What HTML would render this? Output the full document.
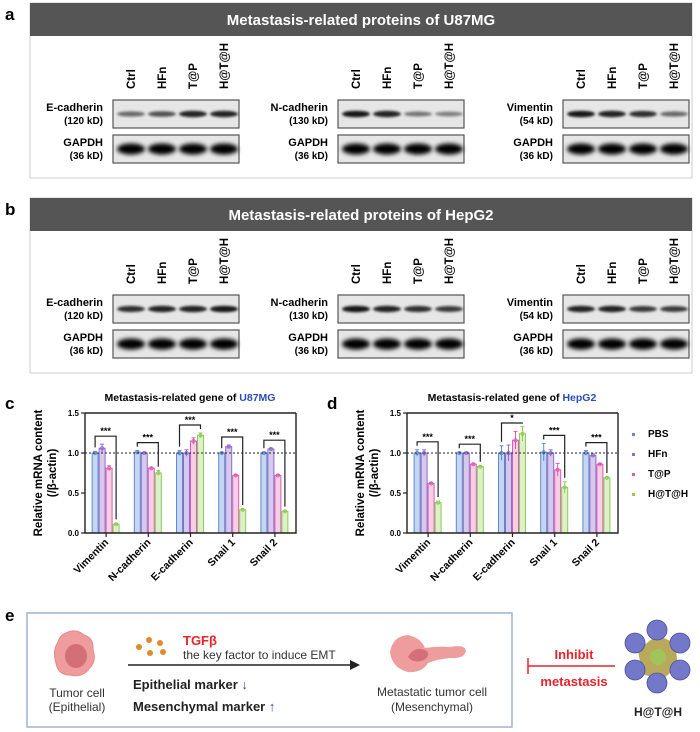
<!DOCTYPE html>
<html><head><meta charset="utf-8">
<style>
html,body{margin:0;padding:0;background:#fff;}
svg{display:block;font-family:"Liberation Sans",Arial,sans-serif;}
</style></head>
<body>
<svg id="fig" width="700" height="732" viewBox="0 0 700 732" xmlns="http://www.w3.org/2000/svg">
<defs>
<filter id="blur1" x="-20%" y="-50%" width="140%" height="200%"><feGaussianBlur stdDeviation="1.3"/></filter>
<filter id="blur2" x="-20%" y="-50%" width="140%" height="200%"><feGaussianBlur stdDeviation="2"/></filter>
</defs>
<g id="blots"></g>
<g id="charts"></g>
<g id="panel-e">
  <text x="5" y="621" font-size="17" font-weight="bold">e</text>
  <rect x="27" y="613" width="485" height="114" fill="none" stroke="#9db3d9" stroke-width="1.5"/>
  <g>
    <path d="M66,633 Q76,628 84,635 Q94,638 93,650 Q97,661 89,669 Q82,678 70,675 Q58,675 56,663 Q52,651 58,642 Q60,635 66,633Z" fill="#ef9c9c" stroke="#e58a8a"/>
    <ellipse cx="76" cy="656" rx="11" ry="12" fill="#d36f78"/>
  </g>
  <text x="77" y="697" font-size="12" text-anchor="middle" fill="#333">Tumor cell</text>
  <text x="77" y="711" font-size="12" text-anchor="middle" fill="#333">(Epithelial)</text>
  <g fill="#e08a2a">
    <circle cx="139" cy="647" r="3"/><circle cx="149" cy="640" r="3"/><circle cx="160" cy="643" r="3"/><circle cx="150" cy="653" r="3"/><circle cx="163" cy="652" r="3"/>
  </g>
  <text x="183" y="645" font-size="13" font-weight="bold" fill="#e8232a">TGFβ</text>
  <text x="183" y="659" font-size="12" fill="#333">the key factor to induce EMT</text>
  <line x1="128" y1="665" x2="352" y2="665" stroke="#222" stroke-width="1.5"/>
  <polygon points="360,665 350,660 350,670" fill="#222"/>
  <text x="133" y="689" font-size="13" font-weight="bold" fill="#222">Epithelial marker <tspan fill="#2a4da8">↓</tspan></text>
  <text x="133" y="711" font-size="13" font-weight="bold" fill="#222">Mesenchymal marker <tspan fill="#2a4da8">↑</tspan></text>
  <g>
    <path d="M390,652 Q393,636 408,635 Q421,638 425,648 Q438,646 450,647 Q465,644 466,651 Q464,659 450,658 Q438,659 428,663 Q422,673 408,672 Q392,668 390,652Z" fill="#ef9c9c"/>
    <path d="M408,657 Q414,646 425,650 Q432,654 424,660 Q414,664 408,657Z" fill="#d36f78"/>
  </g>
  <text x="432" y="696" font-size="12" text-anchor="middle" fill="#333">Metastatic tumor cell</text>
  <text x="432" y="711" font-size="12" text-anchor="middle" fill="#333">(Mesenchymal)</text>
  <text x="574" y="659" font-size="13" font-weight="bold" fill="#e8232a" text-anchor="middle">Inhibit</text>
  <line x1="528" y1="666" x2="615" y2="666" stroke="#e8232a" stroke-width="1.5"/>
  <line x1="528" y1="658" x2="528" y2="674" stroke="#e8232a" stroke-width="1.5"/>
  <text x="574" y="686" font-size="13" font-weight="bold" fill="#e8232a" text-anchor="middle">metastasis</text>
  <g>
    <polygon points="657,635 675,643 678,666 662,680 642,674 638,650" fill="#b9a95a"/>
    <circle cx="658" cy="657" r="8" fill="#9fc55a"/>
    <g fill="#7478c8" stroke="#4a4fa0" stroke-width="0.8">
      <circle cx="657" cy="630" r="10"/><circle cx="680" cy="643" r="10"/><circle cx="680" cy="670" r="10"/>
      <circle cx="657" cy="683" r="10"/><circle cx="635" cy="670" r="10"/><circle cx="635" cy="643" r="10"/>
    </g>
  </g>
  <text x="658" y="716" font-size="12" font-weight="bold" text-anchor="middle" fill="#222">H@T@H</text>
</g>
</svg>
<script>
const NS='http://www.w3.org/2000/svg';
function mk(parent,tag,attrs,text){const e=document.createElementNS(NS,tag);for(const k in attrs)e.setAttribute(k,attrs[k]);if(text!==undefined)e.textContent=text;parent.appendChild(e);return e;}

// ---------- Western blots ----------
const lanes=['Ctrl','HFn','T@P','H@T@H'];
const blotPanels=['a','b'];
const blotCells=['U87MG','HepG2'];
const proteins=['E-cadherin','N-cadherin','Vimentin'];
const proteinKd=['(120 kD)','(130 kD)','(54 kD)'];
const bandsU87=[[0.55,0.65,0.85,0.85],[0.9,0.85,0.5,0.45],[0.9,0.85,0.8,0.55]];
const bandsHep=[[0.8,0.85,0.85,0.9],[0.9,0.85,0.8,0.75],[0.85,0.85,0.75,0.75]];
const blotData=[bandsU87,bandsHep];
const blotsG=document.getElementById('blots');
blotPanels.forEach((p,pi)=>{
  const oy=pi*195;
  const g=mk(blotsG,'g',{});
  
  
  const lab=mk(g,'text',{x:5,y:oy+20,'font-size':17,'font-weight':'bold'},p);
  
  
  const fr=mk(g,'rect',{x:30,y:oy+3,width:662,height:175,fill:'#fff',stroke:'#ccc','stroke-width':1});
  
  
  const hd=mk(g,'rect',{x:30,y:oy+3,width:662,height:33,fill:'#555'});
  
  
  const ht=mk(g,'text',{x:361,y:oy+25,'font-size':15,'font-weight':'bold',fill:'#fff','text-anchor':'middle'},'Metastasis-related proteins of '+blotCells[pi]);
  
  
  proteins.forEach((pr,k)=>{
    const bx=113+k*225, bw=126;
    lanes.forEach((ln,li)=>{
      const lx=bx+18+li*31;
      const t=mk(g,'text',{x:0,y:0,'font-size':11.5,'font-weight':'bold',transform:`translate(${lx+4},${oy+89}) rotate(-90)`},ln);
      
      
    });
    [[pr,proteinKd[k],oy+100,blotData[pi][k]],['GAPDH','(36 kD)',oy+135,[1,1,1,1]]].forEach(([nm,kd,yy,vals],ri)=>{
      const l1=mk(g,'text',{x:bx-10,y:yy+11,'font-size':11,'font-weight':'bold','text-anchor':'end'},nm);
      
      
      const l2=mk(g,'text',{x:bx-10,y:yy+24,'font-size':10,'font-weight':'bold','text-anchor':'end'},kd);
      
      
      const r=mk(g,'rect',{x:bx,y:yy,width:bw,height:28,fill:'#e6e6e6',stroke:'#555','stroke-width':1.2});
      
      
      vals.forEach((v,li)=>{
        const cx=bx+18+li*31;
        const h=ri?9:3+v*4;
        const e=mk(g,'ellipse',{cx:cx,cy:yy+14,rx:14,ry:h/2+(ri?1:0),fill:'#000','fill-opacity':ri?1:v,filter:ri?'url(#blur2)':'url(#blur1)'});
        
        
      });
    });
  });
});

// ---------- Bar charts ----------
const genes=['Vimentin','N-cadherin','E-cadherin','Snail 1','Snail 2'];
const groups=['PBS','HFn','T@P','H@T@H'];
const u87Values=[[1.0,1.06,0.81,0.11],[1.01,1.0,0.81,0.75],[1.0,1.0,1.15,1.22],[1.0,1.08,0.72,0.29],[1.0,1.05,0.72,0.27]];
const u87Errors=[[0.02,0.05,0.03,0.01],[0.02,0.01,0.01,0.03],[0.03,0.04,0.04,0.03],[0.01,0.02,0.01,0.01],[0.01,0.01,0.01,0.01]];
const hepValues=[[1.0,1.0,0.62,0.38],[1.0,1.0,0.86,0.83],[1.0,1.0,1.16,1.24],[1.01,1.0,0.79,0.57],[1.0,0.97,0.86,0.69]];
const hepErrors=[[0.04,0.04,0.01,0.02],[0.01,0.01,0.01,0.01],[0.09,0.1,0.11,0.09],[0.11,0.04,0.08,0.07],[0.03,0.02,0.01,0.01]];
const sigLabels=[['***','***','***','***','***'],['***','***','*','***','***']];
const yTicks=[0,0.5,1.0,1.5];
const yTickLabels=['0.0','0.5','1.0','1.5'];
const fills=['#c6d6ef','#d6c9ea','#f4cfe6','#ddf0c9'];
const strokes=['#5b8ad6','#8e6ccf','#d85db4','#8dcc56'];

const chartsG=document.getElementById('charts');
function chart(x0,x1,title,cell,values,errors,sigs,panel,titleX){
  const yb=533, yt=413, ymax=1.5;
  const Y=v=>yb-(v/ymax)*(yb-yt);
  const band=(x1-x0)/genes.length;
  const X=(gi,bi)=>x0+band*gi+band/2-14+bi*7;
  const g=mk(chartsG,'g',{});
  
  
  const pl=mk(g,'text',{x:x0-80,y:409,'font-size':17,'font-weight':'bold'},panel);
  
  
  const tt=mk(g,'text',{x:titleX,y:401,'font-size':10.5,'font-weight':'bold','text-anchor':'middle'});
  
  
  tt.appendChild(document.createTextNode(title+' '));
  mk(tt,'tspan',{fill:'#2a4db5'},cell);
  const yt1=mk(g,'text',{x:0,y:0,'font-size':11.5,'font-weight':'bold','text-anchor':'middle',transform:`translate(${x0-43},${(yb+yt)/2}) rotate(-90)`},'Relative mRNA content');
  
  
  const yt2=mk(g,'text',{x:0,y:0,'font-size':11.5,'font-weight':'bold','text-anchor':'middle',transform:`translate(${x0-29},${(yb+yt)/2}) rotate(-90)`},'(/β-actin)');
  
  
  yTicks.forEach((t,i)=>{
    mk(g,'line',{x1:x0-4,x2:x0,y1:Y(t),y2:Y(t),stroke:'#222','stroke-width':1.2});
    const tl=mk(g,'text',{x:x0-6,y:Y(t)+3,'font-size':8,'font-weight':'bold','text-anchor':'end'},yTickLabels[i]);
    
    
  });
  values.forEach((vals,gi)=>{
    vals.forEach((v,bi)=>{
      const r=mk(g,'rect',{x:X(gi,bi),y:Y(v),width:6,height:yb-Y(v),fill:fills[bi],stroke:strokes[bi],'stroke-width':1});
      
      
      const cx=X(gi,bi)+3, e=errors[gi][bi];
      mk(g,'line',{x1:cx,x2:cx,y1:Y(v+e),y2:Y(v-e),stroke:strokes[bi],'stroke-width':1});
      mk(g,'line',{x1:cx-2,x2:cx+2,y1:Y(v+e),y2:Y(v+e),stroke:strokes[bi],'stroke-width':1});
      mk(g,'circle',{cx:cx,cy:Y(v),r:1.6,fill:'none',stroke:strokes[bi],'stroke-width':0.8});
    });
    const top=Math.max(...vals.map((v,i)=>v+errors[gi][i]));
    const by=Math.max(Y(top+0.1),Y(1.5)+10);
    const xa=X(gi,0)+3, xb=X(gi,3)+3;
    const br=mk(g,'polyline',{points:`${xa},${Y(vals[0]+errors[gi][0])-4} ${xa},${by} ${xb},${by} ${xb},${Y(vals[3]+errors[gi][3])-4}`,fill:'none',stroke:'#222','stroke-width':1.2});
    
    
    const st=mk(g,'text',{x:(xa+xb)/2,y:by-2,'font-size':9,'font-weight':'bold','text-anchor':'middle'},sigs[gi]);
    
    
    const cxg=x0+band*gi+band/2;
    mk(g,'line',{x1:cxg,x2:cxg,y1:yb,y2:yb+4,stroke:'#222','stroke-width':1.2});
    const xl=mk(g,'text',{x:0,y:0,'font-size':10.5,'font-weight':'bold','text-anchor':'end',transform:`translate(${cxg+3},${yb+10}) rotate(-45)`},genes[gi]);
    
    
  });
  const rl=mk(g,'line',{x1:x0,x2:x1,y1:Y(1),y2:Y(1),stroke:'#222','stroke-width':1,'stroke-dasharray':'2,2'});
  
  
  const fr=mk(g,'path',{d:`M${x0},${yt} V${yb} H${x1} V${yt}`,fill:'none',stroke:'#222','stroke-width':1.4});
  
  
  mk(g,'line',{x1:x0,x2:x1,y1:yt,y2:yt,stroke:'#222','stroke-width':1.4});
}
chart(85,296,'Metastasis-related gene of','U87MG',u87Values,u87Errors,sigLabels[0],'c',190);
chart(407,618,'Metastasis-related gene of','HepG2',hepValues,hepErrors,sigLabels[1],'d',512);

const lg=mk(chartsG,'g',{});


groups.forEach((n,i)=>{
  const y=436+i*20;
  mk(lg,'rect',{x:632,y:y-3,width:3,height:3,fill:strokes[i]});
  const t=mk(lg,'text',{x:648,y:y+1,'font-size':10,'font-weight':'bold'},n);
  
  
});
</script>
</body></html>
